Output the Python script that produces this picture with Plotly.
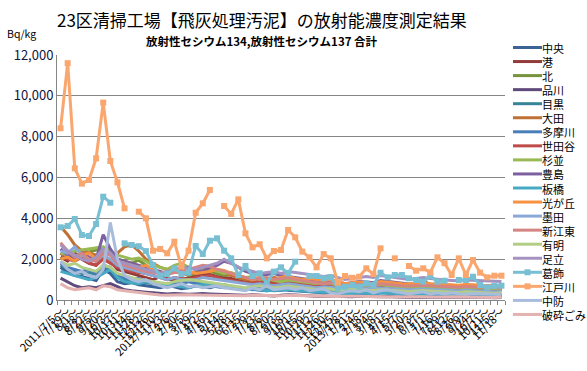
import plotly.graph_objects as go

# ---------------- data ----------------
dates = [
    "2011/7/5～", "7/19～", "8/1～", "8/8～", "8/22～", "9/5～", "9/20～", "10/3～", "10/17～", "10/31～",
    "11/14～", "11/28～", "12/12～", "12/26～",
    "2012/1/10～", "1/23～", "2/6～", "2/20～", "3/5～", "3/19～", "4/2～", "4/16～", "5/1～", "5/14～",
    "5/28～", "6/11～", "6/25～", "7/9～", "7/23～", "8/6～", "8/20～", "9/3～", "9/18～", "10/1～",
    "10/15～", "10/29～", "11/12～", "11/26～", "12/10～", "12/25～",
    "2013/1/8～", "1/21～", "2/4～", "2/18～", "3/4～", "3/18～", "4/1～", "4/15～", "5/7～", "5/20～",
    "6/3～", "6/17～", "7/1～", "7/16～", "7/29～", "8/12～", "8/26～", "9/9～", "9/24～", "10/7～",
    "10/21～", "11/5～", "11/18～",
]

names = ["中央", "港", "北", "品川", "目黒", "大田", "多摩川", "世田谷", "杉並", "豊島",
         "板橋", "光が丘", "墨田", "新江東", "有明", "足立", "葛飾", "江戸川", "中防", "破砕ごみ"]

colors = ["#3B6396", "#933B39", "#77933C", "#5F4A7B", "#378499", "#BF7133",
          "#4A7EBB", "#BE4B48", "#98B954", "#7D60A0", "#46AAC5", "#F69240",
          "#8AA8D6", "#D48583", "#B2CD86", "#A493C0", "#78BFD3", "#F9A66F",
          "#A9BCDB", "#E4B2B1"]

chuo = [1600,1350,1200,1150,1050,950,1500,1300,900,800,850,750,700,650,600,700,650,550,600,700,650,600,700,750,650,600,550,500,480,450,500,520,480,450,420,400,380,350,400,380,300,320,350,330,300,380,350,320,300,280,300,320,290,270,300,280,260,280,300,270,250,240,250]
minato = [2100,1900,2300,2000,1800,1700,2200,1900,1500,1400,1300,1200,1100,1000,1150,1050,950,1000,1100,1200,1300,1250,1150,1100,1050,950,900,850,950,1000,900,950,1150,1000,950,900,850,800,900,850,700,750,800,780,720,800,760,700,680,650,700,720,680,650,700,650,620,600,650,620,580,560,570]
kita = [2000,2200,2100,2400,2350,2450,2500,2300,2000,1900,1800,1950,1700,1500,1300,1400,1500,1350,1200,1300,1450,1400,1300,1200,1250,1100,1000,1050,900,950,1000,900,1050,950,900,850,800,850,780,650,700,720,680,650,700,750,680,650,600,620,650,600,580,560,600,580,550,520,550,530,500,480,490]
shinagawa = [1070,900,700,600,650,600,700,800,650,500,450,400,380,350,330,300,320,300,280,300,320,300,280,260,250,240,230,260,250,220,200,230,260,240,220,200,180,200,190,150,170,160,180,170,150,160,170,150,140,150,160,140,130,140,150,140,130,120,130,140,120,110,120]
meguro = [1700,1500,1400,1300,1350,1250,1600,1500,1100,1000,950,900,850,800,750,700,750,800,900,850,800,750,700,650,600,550,500,550,600,500,450,480,520,500,450,420,400,380,420,400,300,320,340,320,300,350,330,310,290,280,300,310,290,270,280,260,250,270,280,260,240,230,240]
ota = [3600,3200,2700,2400,2300,2200,2100,1900,2300,2600,2700,2400,2000,1800,1600,1500,1400,1300,1250,1350,1500,1600,1400,1300,1200,1100,1000,950,900,1000,1100,1050,1000,950,900,1050,1000,900,950,850,700,750,800,780,720,820,760,700,680,650,700,980,720,680,650,620,600,580,620,600,560,540,550]
tamagawa = [1800,1600,1500,1400,1500,1300,1700,1600,1200,1100,1000,1050,900,850,800,750,800,850,900,800,750,700,650,600,650,600,550,500,550,600,500,480,520,480,450,430,400,380,420,400,320,340,360,340,320,380,350,330,310,300,320,330,310,290,300,280,270,290,300,280,260,250,260]
setagaya = [2300,2000,1900,2100,1800,1700,2000,1800,1600,1500,1400,1350,1300,1200,1100,1000,1100,1050,1000,1100,1150,1200,1100,1000,950,900,850,800,900,850,800,820,900,850,800,750,700,720,750,700,600,650,680,650,620,700,660,620,600,580,600,620,600,580,560,540,520,560,540,520,500,480,490]
suginami = [2300,2200,2400,2450,2500,2550,2600,2400,2200,2100,2000,2050,1900,1700,1600,1500,1700,1800,1600,1500,1450,1500,1400,1300,1350,1200,1100,1150,1000,1050,950,900,980,940,880,850,800,850,820,700,720,750,700,680,720,760,700,660,640,620,640,660,620,600,620,600,580,560,600,580,550,530,540]
toshima = [2500,2200,2000,2300,2100,2000,3200,2500,2000,1900,1800,1700,1600,1500,1400,1300,1400,1500,1600,1500,1400,1600,1700,1900,1800,1600,1400,1300,1200,1250,1300,1200,1150,1100,1050,1000,950,900,950,900,800,850,900,880,850,950,900,850,800,780,800,820,780,750,740,720,700,740,720,700,680,660,670]
itabashi = [1400,1300,1200,1100,1000,1100,1300,1500,1100,900,850,800,900,850,800,750,700,650,600,700,750,800,700,650,600,550,500,550,500,450,480,500,520,480,450,420,400,380,400,380,300,330,350,330,310,360,340,320,300,290,310,320,300,280,290,270,260,280,290,270,250,240,250]
hikarigaoka = [2000,2100,1900,2200,2300,2000,2400,2200,1900,1800,1700,1600,1700,1500,1300,1400,1500,1600,1400,1300,1350,1400,1500,1450,1300,1200,1100,1000,1100,1050,1000,1100,1200,1050,1000,1050,1000,950,1000,900,800,850,880,850,800,900,860,820,800,780,820,840,800,780,760,740,720,760,740,720,700,680,700]
sumida = [2400,2300,2600,2200,2000,1900,2200,2000,1700,1600,1500,1400,1300,1200,1100,1000,1100,1000,950,1000,1100,1050,1000,950,900,850,800,750,800,750,700,750,800,750,700,650,600,650,620,550,580,600,570,550,600,580,560,540,520,500,520,540,520,500,480,460,450,480,460,440,420,410,420]
shinkoto = [2800,2400,2100,2300,2000,1900,2300,2200,1800,1700,1600,1500,1400,1350,1300,1250,1350,1400,1500,1600,1700,1650,1500,1400,1300,1200,1100,1000,1050,1100,1000,1050,1100,1000,950,900,850,800,850,800,700,750,780,750,700,800,760,720,700,680,700,720,700,680,660,640,620,660,640,620,600,580,590]
ariake = [1900,1700,1800,1600,1500,1400,1700,1600,1300,1200,1100,1000,950,900,850,800,900,950,1000,950,900,850,800,750,700,650,600,650,700,650,600,620,680,640,600,560,520,560,540,480,500,520,500,480,460,500,480,460,440,420,440,460,440,420,400,380,370,400,380,360,340,330,340]
adachi = [2700,2400,2200,2000,1900,2100,2500,2300,1900,1800,1700,1600,1500,1400,1300,1400,1500,1600,1550,1500,1600,1700,1800,2000,1800,1600,1500,1400,1300,1350,1400,1300,1400,1350,1300,1250,1200,1150,1200,1100,1000,1050,1100,1150,1100,1200,1150,1100,1050,1000,1050,1100,1050,1000,980,960,940,980,960,940,920,900,910]
katsushika = [3560,3625,3970,3185,3135,3720,5060,4765,None,2775,2695,2635,2395,1715,1175,1275,1550,1275,1340,2645,2255,2905,3020,2415,2040,1225,1665,1175,1310,815,1390,1600,1310,1880,None,1175,1175,1065,1110,600,650,735,650,815,735,1335,1110,1225,1225,1065,980,900,1175,900,945,None,980,980,1140,735,620,685,700]
edogawa = [8410,11600,6450,5700,5880,6940,9670,6810,5765,4490,None,4325,4000,2415,2500,2285,2855,1630,2415,4275,4735,5390,None,4605,4215,4930,3265,2580,2730,2040,2400,2450,3430,3070,2370,2090,1600,2250,2040,850,1175,1090,1140,1550,1270,2530,None,2040,None,1665,1435,1550,1355,2090,1800,1225,2040,1225,1960,1340,1110,1190,1190]
chubo = [1900,1500,1300,1400,1200,1100,1500,3800,2000,1200,1000,900,1000,800,700,600,700,800,650,700,600,650,700,600,550,500,450,600,500,700,500,550,600,520,600,450,500,550,350,300,400,450,400,500,350,450,500,400,350,300,350,400,300,350,300,350,300,280,320,300,280,260,270]
hasai = [800,600,500,550,600,500,700,650,500,450,400,350,300,280,250,230,250,270,260,250,240,260,250,230,220,200,210,230,220,200,190,210,230,220,200,190,180,200,190,170,180,190,180,170,160,180,170,160,150,160,170,160,150,140,150,160,150,140,150,140,130,120,130]

series = [chuo, minato, kita, shinagawa, meguro, ota, tamagawa, setagaya, suginami, toshima,
          itabashi, hikarigaoka, sumida, shinkoto, ariake, adachi, katsushika, edogawa, chubo, hasai]
with_markers = {"葛飾", "江戸川"}

FONT = "Noto Sans CJK JP"
W, H = 587, 371
L, R, T, B = 57, 82, 55, 71
PW, PH = W - L - R, H - T - B

def px(xp):
    return (xp - L) / PW

def py(yp):
    return (H - B - yp) / PH

fig = go.Figure()
for name, vals, col in zip(names, series, colors):
    fig.add_trace(go.Scatter(
        x=dates, y=vals, name=name,
        mode="lines+markers" if name in with_markers else "lines",
        line=dict(color=col, width=3),
        marker=dict(symbol="square", size=6, color=col),
        connectgaps=False, showlegend=False,
    ))

shapes = []
annotations = []
# custom legend (compact, like the original)
leg_top, leg_step = 47.5, 14.05
for i, (name, col) in enumerate(zip(names, colors)):
    yy = py(leg_top + i * leg_step)
    shapes.append(dict(type="line", xref="paper", yref="paper",
                       x0=px(513), x1=px(542), y0=yy, y1=yy,
                       line=dict(color=col, width=3)))
    if name in with_markers:
        shapes.append(dict(type="rect", xref="paper", yref="paper",
                           x0=px(524.5), x1=px(530.5), y0=yy - 3 / PH, y1=yy + 3 / PH,
                           line=dict(width=0), fillcolor=col))
    annotations.append(dict(text=name, xref="paper", yref="paper", x=px(541), y=yy,
                            xanchor="left", yanchor="middle", showarrow=False,
                            height=13, valign="middle", borderpad=0,
                            font=dict(family=FONT, size=11, color="#000000")))

annotations.append(dict(text="23区清掃工場【飛灰処理汚泥】の放射能濃度測定結果",
                        xref="paper", yref="paper", x=px(262), y=py(19),
                        xanchor="center", yanchor="middle", showarrow=False,
                        font=dict(family=FONT, size=17, color="#000000")))
annotations.append(dict(text="<b>放射性セシウム134,放射性セシウム137 合計</b>",
                        xref="paper", yref="paper", x=px(262), y=py(41),
                        xanchor="center", yanchor="middle", showarrow=False,
                        font=dict(family=FONT, size=11.5, color="#000000")))
annotations.append(dict(text="Bq/kg", xref="paper", yref="paper", x=px(5), y=py(33),
                        xanchor="left", yanchor="middle", showarrow=False,
                        font=dict(family=FONT, size=10.5, color="#000000")))

fig.update_layout(
    width=W, height=H,
    margin=dict(l=L, r=R, t=T, b=B, pad=0),
    paper_bgcolor="white", plot_bgcolor="white",
    font=dict(family=FONT, color="#000000"),
    shapes=shapes, annotations=annotations,
    showlegend=False,
)
fig.update_xaxes(
    type="category", tickmode="array", tickvals=dates, ticktext=dates,
    tickangle=-45, tickson="boundaries", ticks="outside", ticklen=4,
    tickcolor="#868686", showline=True, linecolor="#868686", linewidth=1,
    showgrid=False, tickfont=dict(family=FONT, size=11, color="#000000"),
    range=[-0.5, len(dates) - 0.5], automargin=False,
)
fig.update_yaxes(
    range=[0, 12000], dtick=2000, tickformat=",", showgrid=True,
    gridcolor="#868686", gridwidth=1, showline=True, linecolor="#868686",
    linewidth=1, ticks="", zeroline=False, automargin=False,
    tickfont=dict(family=FONT, size=13, color="#14143C"),
)

fig.write_html(
    "out.html",
    config={"displayModeBar": False},
    post_script="document.body.style.margin='0px';document.body.style.overflow='hidden';",
)
